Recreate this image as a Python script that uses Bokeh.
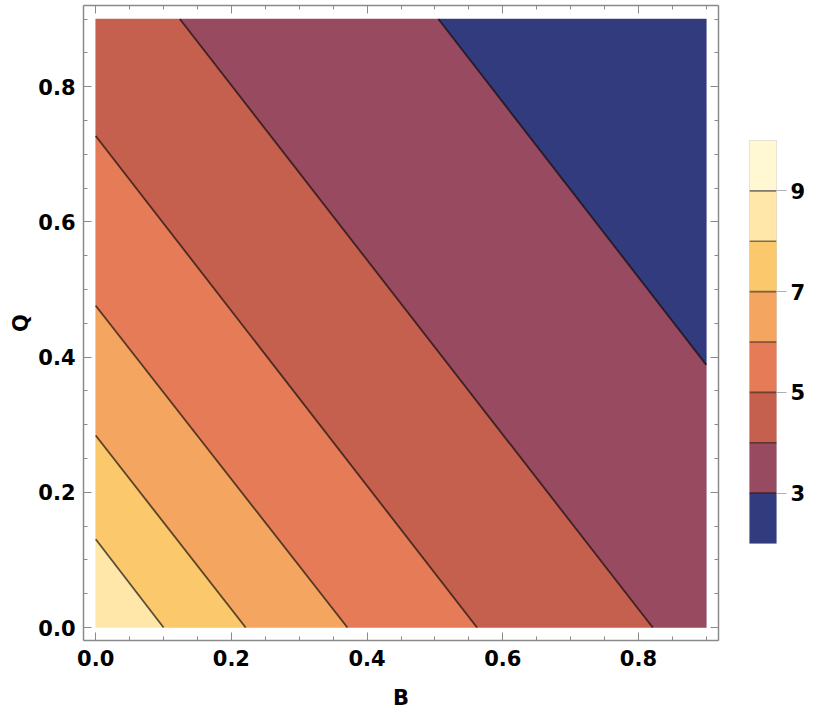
from bokeh.plotting import figure
from bokeh.models import (Range1d, FixedTicker, LinearAxis, PrintfTickFormatter)
from bokeh.layouts import row
from bokeh.embed import file_html
from bokeh.resources import INLINE

# ---- data ----
# contour levels and where each straight contour line meets the axes
contour_levels = [3, 4, 5, 6, 7, 8]
b_intercept = [1.200, 0.821, 0.562, 0.371, 0.221, 0.100]   # B where Q = 0
q_intercept = [1.554, 1.060, 0.727, 0.476, 0.284, 0.1306]  # Q where B = 0
band_lo = [2, 3, 4, 5, 6, 7, 8, 9]
band_hi = [3, 4, 5, 6, 7, 8, 9, 10]
band_colors = ["#323b7e", "#974a60", "#c5604f", "#e67b58",
               "#f4a560", "#fbc96b", "#fee7a8", "#fff8d2"]
domain = [0.0, 0.9]
xticks = [0.0, 0.2, 0.4, 0.6, 0.8]
yticks = [0.0, 0.2, 0.4, 0.6, 0.8]
minor_ticks = [round(0.05 * i, 2) for i in range(19)]
cb_ticks = [3, 5, 7, 9]
cb_lines = [3, 4, 5, 6, 7, 8, 9]

FONT = "DejaVu Sans"
GRAY = "#8a8a8a"


def g(pt, k):
    return pt[0] / b_intercept[k] + pt[1] / q_intercept[k] - 1.0


def clip(poly, k, keep_low):
    # keep_low: keep side g<=0 (towards origin, values above the level)
    s = 1.0 if keep_low else -1.0
    out = []
    n = len(poly)
    for i in range(n):
        P = poly[i]
        R = poly[(i + 1) % n]
        gp = s * g(P, k)
        gr = s * g(R, k)
        if gp <= 0:
            out.append(P)
        if gp * gr < 0:
            t = gp / (gp - gr)
            out.append((P[0] + t * (R[0] - P[0]), P[1] + t * (R[1] - P[1])))
    return out


lo, hi = domain
square = [(lo, lo), (hi, lo), (hi, hi), (lo, hi)]
pxs, pys, pcol = [], [], []
for L, H, c in zip(band_lo, band_hi, band_colors):
    if L > contour_levels[-1]:
        continue  # the plotted values never exceed the top band
    poly = list(square)
    if L in contour_levels:
        poly = clip(poly, contour_levels.index(L), True)
    if H in contour_levels and poly:
        poly = clip(poly, contour_levels.index(H), False)
    if len(poly) >= 3:
        pxs.append([q[0] for q in poly])
        pys.append([q[1] for q in poly])
        pcol.append(c)

sx0, sy0, sx1, sy1 = [], [], [], []
for k in range(len(contour_levels)):
    b0, q0 = b_intercept[k], q_intercept[k]
    cands = [(0.0, q0), (b0, 0.0), (hi, q0 * (1 - hi / b0)), (b0 * (1 - hi / q0), hi)]
    pts = []
    for (x, y) in cands:
        if lo - 1e-9 <= x <= hi + 1e-9 and lo - 1e-9 <= y <= hi + 1e-9:
            if all(abs(x - a) + abs(y - b) > 1e-9 for a, b in pts):
                pts.append((x, y))
    if len(pts) >= 2:
        sx0.append(pts[0][0]); sy0.append(pts[0][1])
        sx1.append(pts[1][0]); sy1.append(pts[1][1])

H_TOTAL = 712

# ---- main plot ----
p = figure(width=738, height=H_TOTAL, output_backend="svg", toolbar_location=None,
           x_range=Range1d(-0.018, 0.918), y_range=Range1d(-0.0192, 0.920),
           min_border_left=83, min_border_right=20, min_border_top=5,
           min_border_bottom=H_TOTAL - 641, frame_align=False)
p.grid.visible = False
p.outline_line_color = None

p.patches(xs=pxs, ys=pys, fill_color=pcol, line_color=pcol, line_width=0.5)
p.segment(x0=sx0, y0=sy0, x1=sx1, y1=sy1, line_color="black",
          line_alpha=0.65, line_width=1.8)


def style_axis(ax, ticks, labels=True):
    ax.ticker = FixedTicker(ticks=ticks, minor_ticks=minor_ticks)
    ax.axis_line_color = GRAY
    ax.axis_line_width = 1.5
    ax.major_tick_line_color = GRAY
    ax.minor_tick_line_color = GRAY
    ax.major_tick_in = 8
    ax.major_tick_out = 0
    ax.minor_tick_in = 4
    ax.minor_tick_out = 0
    if labels:
        ax.formatter = PrintfTickFormatter(format="%.1f")
        ax.major_label_text_font = FONT
        ax.major_label_text_font_style = "bold"
        ax.major_label_text_font_size = "21px"
        ax.major_label_text_color = "black"
        ax.axis_label_text_font = FONT
        ax.axis_label_text_font_style = "bold"
        ax.axis_label_text_font_size = "21px"
        ax.axis_label_text_color = "black"
    else:
        ax.major_label_overrides = {t: "" for t in ticks}
        ax.major_label_standoff = 0


style_axis(p.xaxis[0], xticks)
style_axis(p.yaxis[0], yticks)
p.xaxis[0].axis_label = "B"
p.yaxis[0].axis_label = "Q"
p.xaxis[0].major_label_standoff = 9
p.xaxis[0].axis_label_standoff = 17
p.yaxis[0].major_label_standoff = 8
p.yaxis[0].axis_label_standoff = 2

top_ax = LinearAxis()
right_ax = LinearAxis()
style_axis(top_ax, xticks, labels=False)
style_axis(right_ax, yticks, labels=False)
p.add_layout(top_ax, "above")
p.add_layout(right_ax, "right")

# ---- colour bar ----
cb = figure(width=77, height=H_TOTAL, output_backend="svg", toolbar_location=None,
            x_range=Range1d(0, 1), y_range=Range1d(band_lo[0], band_hi[-1]),
            min_border_left=11, min_border_right=39, min_border_top=140,
            min_border_bottom=H_TOTAL - 543, x_axis_location=None,
            y_axis_location="right", frame_align=False)
cb.grid.visible = False
cb.outline_line_color = "#d4d4d4"
cb.quad(left=0, right=1, bottom=band_lo, top=band_hi, fill_color=band_colors,
        line_color=band_colors, line_width=0.5)
cb.segment(x0=[0] * len(cb_lines), x1=[1] * len(cb_lines),
           y0=cb_lines, y1=cb_lines, line_color="black",
           line_alpha=0.5, line_width=1.6)
ya = cb.yaxis[0]
ya.ticker = FixedTicker(ticks=cb_ticks, minor_ticks=[])
ya.axis_line_color = None
ya.major_tick_in = 0
ya.major_tick_out = 10
ya.major_tick_line_color = "#b0b0b0"
ya.major_label_standoff = 4
ya.major_label_text_font = FONT
ya.major_label_text_font_style = "bold"
ya.major_label_text_font_size = "21px"
ya.major_label_text_color = "black"

layout = row(p, cb)
open("out.html", "w").write(file_html(layout, INLINE))
